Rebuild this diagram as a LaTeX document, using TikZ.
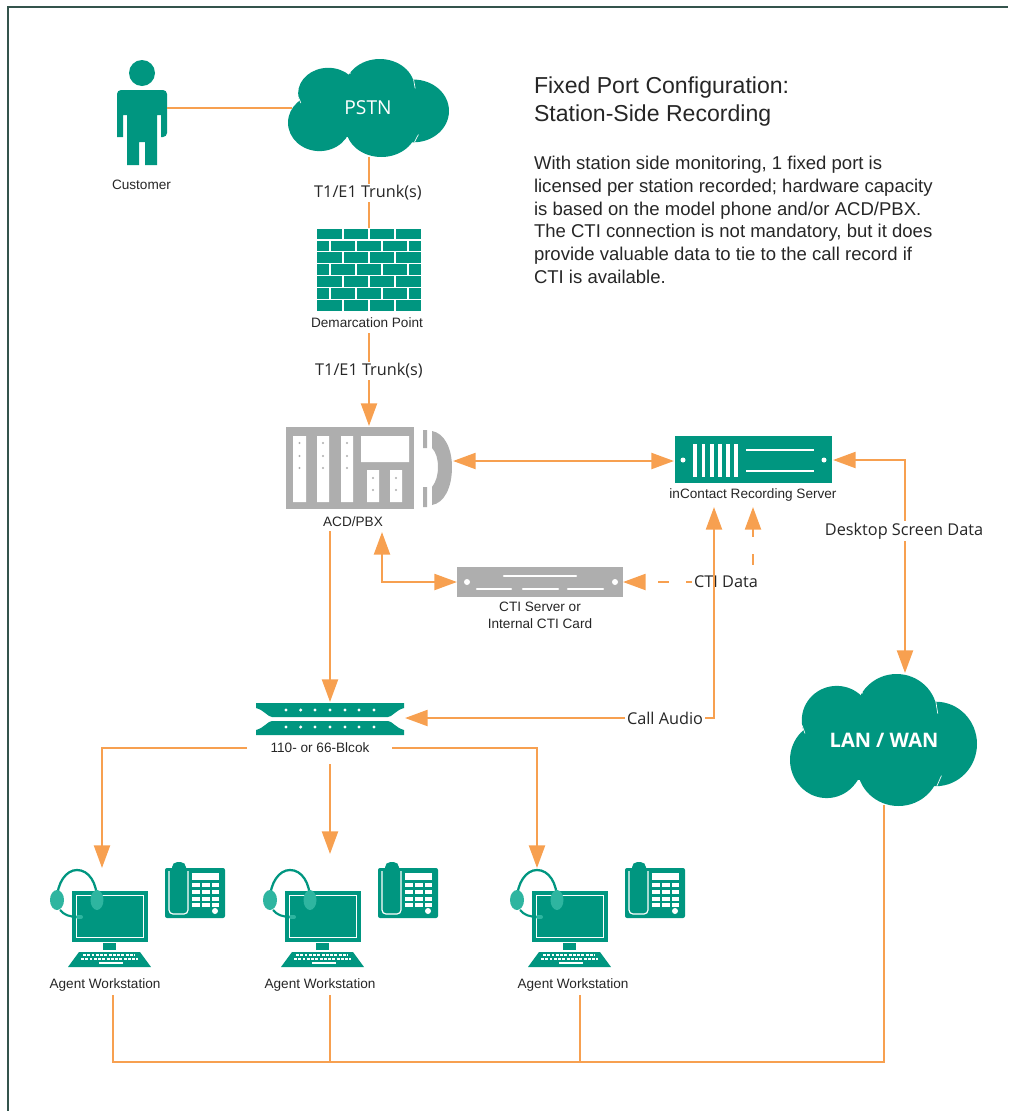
\documentclass[tikz,border=0pt]{standalone}
\usepackage{fontspec}
\setmainfont{Liberation Sans}
\newfontfamily\linkfont{Open Sans}
\usetikzlibrary{arrows.meta}
\definecolor{teelgreen}{RGB}{0,150,128}
\definecolor{lightteel}{RGB}{46,181,160}
\definecolor{linkorange}{RGB}{247,160,80}
\definecolor{iconGray}{RGB}{174,174,174}
\definecolor{textGray}{RGB}{38,38,38}
\tikzset{
  box/.style={inner sep=0pt,outer sep=0pt},
  mark label/.style={inner sep=0.75pt,text=textGray,font=\fontsize{10.2}{12.6}\selectfont,align=center},
  link label/.style={inner sep=1.5pt,fill=white,text=textGray,font=\linkfont\fontsize{12.2}{14}\selectfont},
  link/.style={draw=linkorange,line width=1.7pt},
  one way/.style={link,-{Triangle[width=12pt,length=17pt]}},
  two way/.style={link,{Triangle[width=12pt,length=17pt]}-{Triangle[width=12pt,length=17pt]}},
  cloudshape/.pic={
    \fill[teelgreen] (.57,.30) circle [x radius=.217,y radius=.30];
    \fill[teelgreen] (.25,.35) circle [x radius=.187,y radius=.26];
    \fill[teelgreen] (.196,.65) circle [x radius=.196,y radius=.29];
    \fill[teelgreen] (.78,.53) circle [x radius=.22,y radius=.32];
    \fill[teelgreen] (.58,.70) circle [x radius=.22,y radius=.30];
    \fill[teelgreen] (.30,.25) rectangle (.80,.80);
    \draw[white,line width=.5pt] (.35,.11) -- (.39,.145) (.78,.21) -- (.79,.30) (.065,.39) -- (.08,.45)
      (.345,.84) -- (.38,.90) (.81,.77) -- (.785,.85);
  },
  agentdesk/.pic={
    %monitor
    \fill[teelgreen] (0,0) rectangle (76,51);
    \draw[white,line width=.8pt] (4.5,4.5) rectangle (71.5,46.5);
    \fill[teelgreen] (31,52) rectangle (44,59);
    \fill[teelgreen] (7,61) -- (68,61) -- (79,76) -- (-4,76) -- cycle;
    \draw[white,line width=1.6pt,dash pattern=on 2.2pt off 1pt] (11,64) -- (63,64) (9,68) -- (66,68);
    \draw[white,line width=1.4pt] (27,72) -- (51,72);
    %headset
    \draw[teelgreen,line width=1.7pt] (-15,9) .. controls (-15,-8) and (-6,-21) .. (5,-21) .. controls (17,-21) and (25,-8) .. (25,9);
    \draw[teelgreen,line width=1.6pt] (-12,19) .. controls (-8,24) and (-2,26) .. (6,26);
    \draw[lightteel,line width=3pt,line cap=round] (6,26) -- (9,26);
    \fill[lightteel] (-15,9) circle [x radius=7,y radius=10];
    \fill[lightteel] (25,9) circle [x radius=6.5,y radius=10];
    %phone
    \fill[teelgreen,rounded corners=1.5pt] (93,-23) rectangle (153,27);
    \draw[white,line width=.9pt,rounded corners=3pt] (97,-20) -- (97,23) -- (116,23) -- (116,-20);
    \fill[teelgreen,rounded corners=4pt] (100,-29) rectangle (114,21);
    \fill[white] (120,-18) rectangle (147,-11);
    \foreach \keyrow in {-8,-1,6,12} \foreach \keycol in {120,130,139.5}
      {\fill[white] (\keycol,\keyrow) rectangle ++(7.8,4);}
    \fill[white] (143,20) circle [radius=3];
  }
}
\begin{document}
\begin{tikzpicture}[x=0.75pt,y=0.75pt,yscale=-1]
\useasboundingbox (0,0) rectangle (1008,1111);

%Shape: Frame
\draw[color={rgb,255:red,52;green,84;blue,76},line width=1.5pt] (8,1111) -- (8,7) -- (1008,7);

%Shape: Customer
\fill[teelgreen] (142,73) circle [radius=13];
\fill[teelgreen,rounded corners=3pt] (117,137) -- (117,90) -- (167,90) -- (167,137) [sharp corners] -- (161,137) -- (161,115) -- (157,115)
  -- (157,165) -- (145,165) -- (145,142) -- (139,142) -- (139,165) -- (127,165) -- (127,115) -- (123,115) -- (123,137) -- cycle;
\node[box,minimum width=37.5pt,minimum height=56.25pt] (customer) at (142,127.5) {};

%Shape: PSTN cloud
\pic[xscale=161,yscale=-98] at (288,59) {cloudshape};
\node[box,text=white,font=\linkfont\fontsize{14.4}{18}\selectfont] (pstn) at (368,108) {PSTN};

%Shape: Brick wall
\fill[teelgreen] (317,228) rectangle (421,311);
\foreach \brickrow in {0,...,6} {
  \draw[white,line width=.9pt] (317,228+\brickrow*11.93) -- (421,228+\brickrow*11.93);
}
\foreach \brickrow in {0,2,4,6} \foreach \brickcol in {343,369,395} {
  \draw[white,line width=.9pt] (\brickcol,228+\brickrow*11.93) -- ++(0,11.93);
}
\foreach \brickrow in {1,3,5} \foreach \brickcol in {330,356,382,408} {
  \draw[white,line width=.9pt] (\brickcol,228+\brickrow*11.93) -- ++(0,11.93);
}
\node[box,minimum width=78pt,minimum height=62.25pt] (wall) at (369,269.5) {};

%Shape: ACD/PBX
\fill[iconGray] (286,427) rectangle (414,509);
\fill[white] (293,436) rectangle (306,502) (317,436) rectangle (329,502) (341,436) rectangle (353,502)
  (361,436) rectangle (409,462) (367,470) rectangle (379,502) (390,470) rectangle (402,502);
\fill[iconGray] \foreach \dotx in {299.5,323,347} {\foreach \doty in {443,456,468} {(\dotx,\doty) circle [radius=1.1]}}
  \foreach \dotx in {373,396} {\foreach \doty in {478,490} {(\dotx,\doty) circle [radius=1.1]}};
\fill[iconGray] (423,430) rectangle (427,448) (423,487) rectangle (427,507);
\fill[iconGray] (432,431) .. controls (444,433) and (452,448) .. (452,467) .. controls (452,488) and (444,503) .. (432,505)
  -- (432,487) .. controls (436,482) and (438,475) .. (438,467) .. controls (438,459) and (436,452) .. (432,448) -- cycle;
\node[box,minimum width=125.25pt,minimum height=61.5pt] (acdpbx) at (369.5,468) {};

%Shape: Recording server
\node[box,fill=teelgreen,minimum width=117.75pt,minimum height=35.25pt] (recserver) at (753.5,459.5) {};
\fill[white] (683,460) circle [radius=2.5] (824,460) circle [radius=2.5];
\foreach \barx in {695,703.5,712,720,728,736} {
  \draw[white,line width=2.6pt] (\barx,444) -- (\barx,477);
}
\draw[white,line width=2pt] (746,450) -- (814,450) (746,471) -- (814,471);

%Shape: CTI server
\node[box,fill=iconGray,minimum width=124.5pt,minimum height=22.5pt] (ctiserver) at (540,582) {};
\fill[white] (467,582) circle [radius=3] (615,582) circle [radius=3];
\draw[white,line width=1.6pt,line cap=round] (504,576) -- (576,576) (477,589) -- (511,589) (523,589) -- (558,589) (568,589) -- (603,589);

%Shape: Punch block
\fill[teelgreen] (256,703) -- (404,703) -- (404,708) .. controls (396,710) and (392,717) .. (388,717) -- (272,717) .. controls (268,717) and (264,710) .. (256,708) -- cycle;
\fill[teelgreen] (256,735) -- (404,735) -- (404,730) .. controls (396,728) and (392,721) .. (388,721) -- (272,721) .. controls (268,721) and (264,728) .. (256,730) -- cycle;
\foreach \dotx in {286,300.7,315,330,345,359,374} {
  \fill[white] (\dotx,710) circle [radius=1.7] (\dotx,727) circle [radius=1.7];
}
\node[box,minimum width=111pt,minimum height=24pt] (punchblock) at (330,719) {};

%Shape: LAN cloud
\pic[xscale=187,yscale=-132] at (790,674) {cloudshape};
\node[box,text=white,font=\linkfont\bfseries\fontsize{15}{18}\selectfont] (lanwan) at (884,740) {LAN / WAN};

%Shape: Agent desks
\foreach \deskx in {72,285,532} {
  \pic[yscale=-1] at (\deskx,891) {agentdesk};
}

% Text Node
\node[box,text=textGray,anchor=north west,align=left,font=\fontsize{17.3}{21}\selectfont] (titletext) at (534,76.5) {Fixed Port Configuration:\\Station-Side Recording};
\node[box,text=textGray,anchor=north west,align=left,font=\fontsize{13.9}{17.1}\selectfont] (bodytext) at (534,156) {With station side monitoring, 1 fixed port is\\licensed per station recorded; hardware capacity\\is based on the model phone and/or ACD/PBX.\\The CTI connection is not mandatory, but it does\\provide valuable data to tie to the call record if\\CTI is available.};
\node[mark label] (customerlbl) at (141.5,185) {Customer};
\node[mark label] (walllbl) at (367,323) {Demarcation Point};
\node[mark label] (acdlbl) at (353,522) {ACD/PBX};
\node[mark label] (serverlbl) at (753,495) {inContact Recording Server};
\node[mark label] (ctilbl) at (540,615.5) {CTI Server or\\Internal CTI Card};
\node[mark label] (blocklbl) at (320,748) {110- or 66-Blcok};
\node[mark label] (agentlblA) at (105,985) {Agent Workstation};
\node[mark label] (agentlblB) at (320,985) {Agent Workstation};
\node[mark label] (agentlblC) at (573,985) {Agent Workstation};

% Free ends of the links
\coordinate (pstnout) at (369,157);
\coordinate (trunkstart) at (369,333);
\coordinate (trunkend) at (369,426);
\coordinate (acdeast) at (453,461);
\coordinate (serverwest) at (674,461);
\coordinate (servereast) at (833,460);
\coordinate (lanin) at (905,673);
\coordinate (lanout) at (884,805);
\coordinate (acdup) at (382,532);
\coordinate (acddown) at (330,531);
\coordinate (blockin) at (330,702);
\coordinate (blockeast) at (405,718);
\coordinate (audioup) at (714,507);
\coordinate (ctiup) at (753,507);
\coordinate (ctieast) at (623,582);
\coordinate (blockleft) at (247,748);
\coordinate (blockright) at (392,748);
\coordinate (blockmid) at (330,764);
\coordinate (agenttipA) at (102,868);
\coordinate (agenttipB) at (330,854);
\coordinate (agenttipC) at (537,868);
\coordinate (busA) at (113,995);
\coordinate (busB) at (330,995);
\coordinate (busC) at (580,995);
\coordinate (busAend) at (113,1062);
\coordinate (busBend) at (330,1062);
\coordinate (busCend) at (580,1062);

%Straight Lines
\draw[link] (customer.east |- 0,108) -- (292,108);
\draw[link] (pstnout) -- (wall.north);
\draw[one way] (trunkstart) -- (trunkend);
\draw[two way] (acdeast) -- (serverwest);
\draw[two way] (servereast) -| (lanin);
\draw[two way] (acdup) |- (ctiserver.west);
\draw[one way] (acddown) -- (blockin);
\draw[two way,dash pattern=on 8.25pt off 12.75pt,dash phase=11.25pt] (ctieast) -| (ctiup);
\node[link label] (ctidatalbl) at (726,582) {CTI Data};
\draw[two way] (blockeast) -| (audioup);
\draw[one way] (blockleft) -| (agenttipA);
\draw[one way] (blockmid) -- (agenttipB);
\draw[one way] (blockright) -| (agenttipC);
\draw[link] (busA) -- (busAend) -- (busBend) -- (busCend) -| (lanout);
\draw[link] (busB) -- (busBend);
\draw[link] (busC) -- (busCend);

% Text Node
\node[link label] (trunklblA) at (368,193) {T1/E1 Trunk(s)};
\node[link label] (trunklblB) at (369,371) {T1/E1 Trunk(s)};
\node[link label] (desktoplbl) at (904,531) {Desktop Screen Data};
\node[link label] (audiolbl) at (665,718) {Call Audio};

\end{tikzpicture}
\end{document}
